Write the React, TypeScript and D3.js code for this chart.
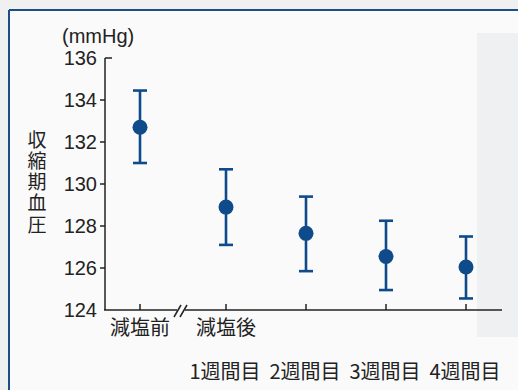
import React from "react";
import * as d3 from "d3";

const yTicks = [124, 126, 128, 130, 132, 134, 136];
const pointKeys = ["pre", "w1", "w2", "w3", "w4"];
const means = [132.7, 128.9, 127.65, 126.55, 126.05];
const upper = [134.45, 130.7, 129.4, 128.25, 127.5];
const lower = [131.0, 127.1, 125.85, 124.95, 124.55];
const row1Labels = ["減塩前", "減塩後"];
const row2Labels = ["1週間目", "2週間目", "3週間目", "4週間目"];
const yTitle = "収縮期血圧";
const unit = "(mmHg)";

const W = 518;
const H = 390;
const BLUE = "#0f4a8a";
const INK = "#222222";
const NUM_FONT = "'Liberation Sans', Arial, sans-serif";
const JP_FONT = "'Noto Sans CJK JP', 'Noto Sans', sans-serif";

export default function App() {
  const y = d3.scaleLinear().domain([124, 136]).range([310, 58]);
  const xAfter = d3.scalePoint<string>().domain(pointKeys.slice(1)).range([226, 466]);
  const breakGap = 86;
  const x = (k: string, i: number) => (i === 0 ? (xAfter(pointKeys[1]) as number) - breakGap : (xAfter(k) as number));
  const axisX = 105;
  const axisY = y(124);
  const xEnd = 502;
  const breakX = 182;

  return (
    <svg width={W} height={H} style={{ position: "absolute", left: 0, top: 0 }}>
      <rect x={0} y={0} width={W} height={H} fill="#f0f0f0" />
      <rect x={9} y={10} width={W - 9} height={H - 10} fill="#fafafa" />
      <rect x={477} y={33} width={W - 477} height={304} fill="#eef0f1" />
      <line x1={9} y1={10} x2={W} y2={10} stroke="#1d4d86" strokeWidth={2} />
      <line x1={9} y1={10} x2={9} y2={H} stroke="#1d4d86" strokeWidth={2} />

      {/* y axis */}
      <line x1={axisX} y1={y(136)} x2={axisX} y2={axisY} stroke={INK} strokeWidth={1.5} />
      {yTicks.map((t, i) => (
        <g key={t}>
          {i > 0 && i < yTicks.length - 1 && (
            <line x1={axisX - 5} x2={axisX} y1={y(t)} y2={y(t)} stroke={INK} strokeWidth={1.5} />
          )}
          {i === yTicks.length - 1 && (
            <line x1={axisX} x2={axisX + 7} y1={y(t)} y2={y(t)} stroke={INK} strokeWidth={1.5} />
          )}
          <text x={97} y={y(t)} dy="0.36em" textAnchor="end" fontFamily={NUM_FONT} fontSize={20} fill={INK}>
            {t}
          </text>
        </g>
      ))}
      <text x={62} y={43} fontFamily={NUM_FONT} fontSize={20} fill={INK}>{unit}</text>
      <text
        x={37}
        y={130}
        fontFamily={JP_FONT}
        fontSize={19}
        fill={INK}
        style={{ writingMode: "vertical-rl", letterSpacing: "2.2px" }}
      >
        {yTitle}
      </text>

      {/* x axis with break */}
      <line x1={axisX - 1} x2={breakX - 5} y1={axisY} y2={axisY} stroke={INK} strokeWidth={1.5} />
      <line x1={breakX + 3} x2={xEnd} y1={axisY} y2={axisY} stroke={INK} strokeWidth={1.5} />
      <line x1={breakX - 8} y1={axisY + 7} x2={breakX - 1} y2={axisY - 5} stroke={INK} strokeWidth={1.5} />
      <line x1={breakX - 2} y1={axisY + 7} x2={breakX + 5} y2={axisY - 5} stroke={INK} strokeWidth={1.5} />
      {pointKeys.map((k, i) => (
        <line key={k} x1={x(k, i)} x2={x(k, i)} y1={axisY} y2={axisY - 6} stroke={INK} strokeWidth={1.5} />
      ))}

      {/* error bars and points */}
      {pointKeys.map((k, i) => {
        const cx = x(k, i);
        return (
          <g key={k} stroke={BLUE} strokeWidth={2.6}>
            <line x1={cx} x2={cx} y1={y(upper[i])} y2={y(lower[i])} />
            <line x1={cx - 7} x2={cx + 7} y1={y(upper[i])} y2={y(upper[i])} />
            <line x1={cx - 7} x2={cx + 7} y1={y(lower[i])} y2={y(lower[i])} />
            <circle cx={cx} cy={y(means[i])} r={7.5} fill={BLUE} stroke="none" />
          </g>
        );
      })}

      {/* category labels */}
      {row1Labels.map((l, i) => (
        <text key={l} x={x(pointKeys[i], i)} y={335} textAnchor="middle" fontFamily={JP_FONT} fontSize={20} fill={INK}>
          {l}
        </text>
      ))}
      {row2Labels.map((l, i) => (
        <text key={l} x={(xAfter(pointKeys[i + 1]) as number) - 1} y={379} textAnchor="middle" fontFamily={JP_FONT} fontSize={20} fill={INK}>
          {l}
        </text>
      ))}
    </svg>
  );
}
